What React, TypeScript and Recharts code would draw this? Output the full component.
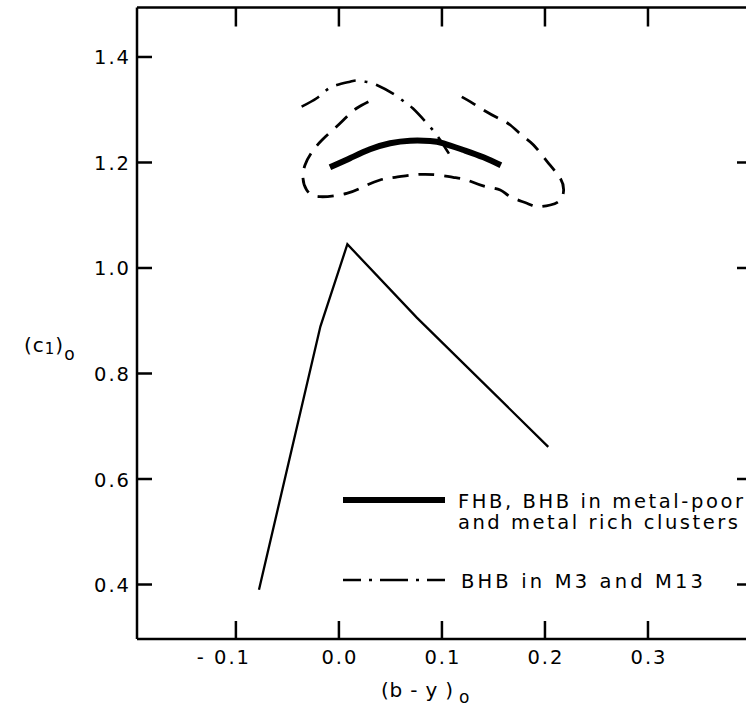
import React from 'react';
import { ComposedChart, Line, XAxis, YAxis } from 'recharts';

// axis ticks
const BY_TICKS = [-0.1, 0.0, 0.1, 0.2, 0.3];
const C1_TICKS = [0.4, 0.6, 0.8, 1.0, 1.2, 1.4];
const C1_RIGHT_TICKS = [0.4, 0.6, 1.0, 1.2];
const BY_DOMAIN: [number, number] = [-0.196, 0.4];
const C1_DOMAIN: [number, number] = [0.2967, 1.4938];

// thin solid line
const THIN_BY = [-0.0776, -0.018, 0.0082, 0.0756, 0.2032];
const THIN_C1 = [0.39, 0.889, 1.045, 0.906, 0.661];

// thick solid line: FHB, BHB in metal-poor and metal rich clusters
const FHB_BY = [-0.0087, 0.0108, 0.0302, 0.0497, 0.0691, 0.0885, 0.1015, 0.1209, 0.1403, 0.1572];
const FHB_C1 = [1.1909, 1.208, 1.225, 1.2364, 1.2413, 1.2408, 1.2364, 1.2237, 1.2099, 1.1947];

// dash-dot line: BHB in M3 and M13
const M3_BY = [-0.0362, -0.0216, -0.0119, -0.0021, 0.0108, 0.0176, 0.0254, 0.0367, 0.0545, 0.0633, 0.0717, 0.0869, 0.0924, 0.0983, 0.1096];
const M3_C1 = [1.3058, 1.3217, 1.3374, 1.3469, 1.3532, 1.3555, 1.3532, 1.3469, 1.328, 1.3153, 1.3027, 1.2711, 1.2584, 1.2427, 1.208];

// dashed envelope
const ENV_BY = [0.0286, 0.0176, 0.0076, -0.0038, -0.0164, -0.0261, -0.0329, -0.0349, -0.0313, -0.0184, 0.0076, 0.0237, 0.0399, 0.0545, 0.0707, 0.0837, 0.0963, 0.1109, 0.1242, 0.14, 0.1566, 0.1663, 0.1825, 0.1922, 0.2052, 0.2149, 0.2181, 0.2149, 0.2035, 0.1889, 0.1792, 0.1663, 0.1549, 0.1403, 0.1274, 0.1128];
const ENV_C1 = [1.3153, 1.3033, 1.2868, 1.2654, 1.2427, 1.2199, 1.1953, 1.1706, 1.1479, 1.1352, 1.1416, 1.1541, 1.1668, 1.1719, 1.1763, 1.1776, 1.1763, 1.1719, 1.1668, 1.1555, 1.1479, 1.1352, 1.1227, 1.1162, 1.1194, 1.1289, 1.1479, 1.17, 1.1985, 1.2332, 1.2489, 1.2711, 1.2838, 1.2995, 1.3153, 1.3312];

const LEGEND_1A = 'FHB, BHB in metal-poor';
const LEGEND_1B = 'and metal rich clusters';
const LEGEND_2 = 'BHB in M3  and  M13';

const zip = (xs: number[], ys: number[]) => xs.map((x, i) => ({ x, y: ys[i] }));
const thinData = zip(THIN_BY, THIN_C1);
const fhbData = zip(FHB_BY, FHB_C1);
const m3Data = zip(M3_BY, M3_C1);
const envData = zip(ENV_BY, ENV_C1);

const FONT = '"DejaVu Sans", "Liberation Sans", Arial, sans-serif';
const TICK_FONT = 19.5;
const DASH_DOT = '20 9 3 9';
const DASH = '16 10';

const fmt = (v: number) => Math.abs(v).toFixed(1);

const BottomTick = (p: any) => {
  const { x, y, payload } = p;
  const v = payload.value as number;
  return (
    <g>
      <line x1={x} y1={y} x2={x} y2={y - 18} stroke="#000" strokeWidth={2.5} />
      <text x={v < 0 ? x - 12 : x + 1} y={y + 25} textAnchor="middle" fontSize={TICK_FONT} letterSpacing={2} fontFamily={FONT} fill="#000">
        {(v < 0 ? '- ' : '') + fmt(v)}
      </text>
    </g>
  );
};

const TopTick = (p: any) => {
  const { x, y } = p;
  return <line x1={x} y1={y} x2={x} y2={y + 19} stroke="#000" strokeWidth={2.5} />;
};

const LeftTick = (p: any) => {
  const { x, y, payload } = p;
  return (
    <g>
      <line x1={x} y1={y} x2={x + 15} y2={y} stroke="#000" strokeWidth={2.5} />
      <text x={x - 6} y={y + 7.5} textAnchor="end" fontSize={TICK_FONT} letterSpacing={2} fontFamily={FONT} fill="#000">
        {fmt(payload.value)}
      </text>
    </g>
  );
};

const RightTick = (p: any) => {
  const { x, y } = p;
  return <line x1={x - 14} y1={y} x2={x} y2={y} stroke="#000" strokeWidth={2.5} />;
};

export default function App() {
  return (
    <div style={{ position: 'fixed', left: 0, top: 0, width: 746, height: 708, overflow: 'hidden', background: '#fff' }}>
      <ComposedChart width={761} height={708} margin={{ top: 6.5, right: 0, bottom: 0, left: 0 }}>
        <XAxis xAxisId="b" type="number" dataKey="x" domain={BY_DOMAIN} ticks={BY_TICKS} orientation="bottom" height={69}
          interval={0} tickSize={0} tickMargin={0} tickLine={false} allowDataOverflow
          axisLine={{ stroke: '#000', strokeWidth: 2.5 }} tick={(p: any) => <BottomTick {...p} />} />
        <XAxis xAxisId="t" type="number" dataKey="x" domain={BY_DOMAIN} ticks={BY_TICKS} orientation="top" height={1}
          interval={0} tickSize={0} tickMargin={0} tickLine={false} allowDataOverflow
          axisLine={{ stroke: '#000', strokeWidth: 2.5 }} tick={(p: any) => <TopTick {...p} />} />
        <YAxis yAxisId="l" type="number" domain={C1_DOMAIN} ticks={C1_TICKS} orientation="left" width={137}
          interval={0} tickSize={0} tickMargin={0} tickLine={false} allowDataOverflow
          axisLine={{ stroke: '#000', strokeWidth: 2.5 }} tick={(p: any) => <LeftTick {...p} />} />
        <YAxis yAxisId="r" type="number" domain={C1_DOMAIN} ticks={C1_RIGHT_TICKS} orientation="right" width={10}
          interval={0} tickSize={0} tickMargin={0} tickLine={false} allowDataOverflow
          axisLine={{ stroke: '#000', strokeWidth: 2.5 }} tick={(p: any) => <RightTick {...p} />} />
        <Line xAxisId="b" yAxisId="l" data={thinData} dataKey="y" type="linear" stroke="#000" strokeWidth={2.3}
          dot={false} activeDot={false} isAnimationActive={false} strokeLinejoin="miter" />
        <Line xAxisId="b" yAxisId="l" data={envData} dataKey="y" type="natural" stroke="#000" strokeWidth={2.8}
          strokeDasharray={DASH} dot={false} activeDot={false} isAnimationActive={false} />
        <Line xAxisId="b" yAxisId="l" data={m3Data} dataKey="y" type="natural" stroke="#000" strokeWidth={2.6}
          strokeDasharray={DASH_DOT} dot={false} activeDot={false} isAnimationActive={false} />
        <Line xAxisId="b" yAxisId="l" data={fhbData} dataKey="y" type="natural" stroke="#000" strokeWidth={6}
          dot={false} activeDot={false} isAnimationActive={false} />
      </ComposedChart>
      <svg width={746} height={708} style={{ position: 'absolute', left: 0, top: 0, pointerEvents: 'none' }}
        fontFamily={FONT} fill="#000">
        {/* legend */}
        <line x1={343} y1={500} x2={445} y2={500} stroke="#000" strokeWidth={6} />
        <text x={458} y={507.5} fontSize={19.5} textLength={285} lengthAdjust="spacing">{LEGEND_1A}</text>
        <text x={458} y={528.5} fontSize={19.5} textLength={280} lengthAdjust="spacing">{LEGEND_1B}</text>
        <line x1={343} y1={580} x2={445} y2={580} stroke="#000" strokeWidth={2.6} strokeDasharray="18 8 3 8 28 8 3 8 20" />
        <text x={461} y={588} fontSize={19.5} textLength={242} lengthAdjust="spacing">{LEGEND_2}</text>
        {/* axis titles */}
        <text x={381} y={697} fontSize={20} textLength={72} lengthAdjust="spacing">(b - y )</text>
        <text x={459} y={703} fontSize={17}>o</text>
        <text x={24} y={352} fontSize={20} letterSpacing={1}>
          (c<tspan fontSize={15} dy={2}>1</tspan><tspan dy={-2}>)</tspan><tspan fontSize={17} dy={8}>o</tspan>
        </text>
      </svg>
    </div>
  );
}
